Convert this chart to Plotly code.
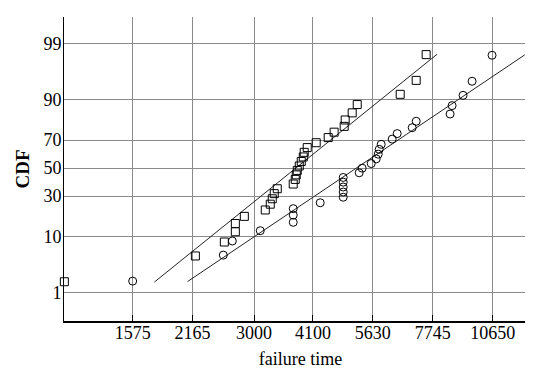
import plotly.graph_objects as go
from statistics import NormalDist

# ---- data ----
# square series: failure times and CDF (%)
sq_time = [1096, 2197, 2562, 2716, 2716, 2849, 3184, 3269, 3304, 3339,
           3393, 3693, 3733, 3753, 3773, 3813, 3854, 3895, 3915, 3978,
           4172, 4446, 4589, 4840, 4866, 5050, 5187, 6516, 7093, 7478]
sq_cdf = [1.67, 5.0, 8.33, 11.67, 15.0, 18.33, 21.67, 25.0, 28.33, 31.67,
          35.0, 38.33, 41.67, 45.0, 48.33, 51.67, 55.0, 58.33, 61.67, 65.0,
          68.33, 71.67, 75.0, 78.33, 81.67, 85.0, 88.33, 91.67, 95.0, 98.33]

# circle series
ci_time = [1575, 2548, 2673, 3100, 3693, 3693, 3693, 4262, 4815, 4815,
           4815, 4815, 4815, 5241, 5325, 5587, 5737, 5798, 5829, 5891,
           6244, 6412, 6944, 7093, 8492, 8582, 9096, 9543, 10610]
ci_cdf = [1.72, 5.17, 8.62, 12.07, 15.52, 18.97, 22.41, 25.86, 29.31, 32.76,
          36.21, 39.66, 43.10, 46.55, 50.0, 53.45, 56.90, 60.34, 63.79, 67.24,
          70.69, 74.14, 77.59, 81.03, 84.48, 87.93, 91.38, 94.83, 98.28]

# fitted lines (end points)
sq_fit_time = [1767, 7925]
sq_fit_cdf = [1.64, 98.36]
ci_fit_time = [2109, 12618]
ci_fit_cdf = [1.69, 98.31]

# ticks
x_ticks = [1575, 2165, 3000, 4100, 5630, 7745, 10650]
y_ticks = [1, 10, 30, 50, 70, 90, 99]

nd = NormalDist()


def q(vals):
    return [nd.inv_cdf(v / 100.0) for v in vals]


FONT = "Liberation Serif, Times New Roman, serif"

fig = go.Figure()

fig.add_trace(go.Scatter(x=sq_fit_time, y=q(sq_fit_cdf), mode="lines",
                         line=dict(color="#222222", width=1), showlegend=False,
                         hoverinfo="skip"))
fig.add_trace(go.Scatter(x=ci_fit_time, y=q(ci_fit_cdf), mode="lines",
                         line=dict(color="#222222", width=1), showlegend=False,
                         hoverinfo="skip"))
fig.add_trace(go.Scatter(x=sq_time, y=q(sq_cdf), mode="markers",
                         marker=dict(symbol="square-open", size=8, color="black",
                                     line=dict(width=1, color="black")),
                         cliponaxis=False, showlegend=False))
fig.add_trace(go.Scatter(x=ci_time, y=q(ci_cdf), mode="markers",
                         marker=dict(symbol="circle-open", size=8, color="black",
                                     line=dict(width=1, color="black")),
                         cliponaxis=False, showlegend=False))

fig.update_layout(
    width=533, height=368,
    margin=dict(l=56, r=4, t=9, b=55),
    paper_bgcolor="white", plot_bgcolor="white",
    font=dict(family=FONT, size=18, color="black"),
    showlegend=False,
)

fig.update_xaxes(
    type="log",
    range=[3.0390, 4.1293],
    tickvals=x_ticks,
    ticktext=[str(v) for v in x_ticks],
    showgrid=True, gridcolor="#8a8a8a", gridwidth=1,
    showline=True, linecolor="black", linewidth=1.5,
    ticks="inside", ticklen=6, tickcolor="black",
    tickfont=dict(family=FONT, size=18),
    ticklabelstandoff=-5,
    zeroline=False,
    title=dict(text="failure time", font=dict(family=FONT, size=18), standoff=10),
)

fig.update_yaxes(
    range=[-2.863, 2.832],
    tickvals=q(y_ticks),
    ticktext=[str(v) for v in y_ticks],
    showgrid=True, gridcolor="#8a8a8a", gridwidth=1,
    showline=True, linecolor="black", linewidth=1,
    ticks="", tickfont=dict(family=FONT, size=18),
    ticklabelstandoff=-2,
    zeroline=False,
    title=dict(text="<b>CDF</b>", font=dict(family=FONT, size=19), standoff=8),
)

fig.write_html("out.html")
